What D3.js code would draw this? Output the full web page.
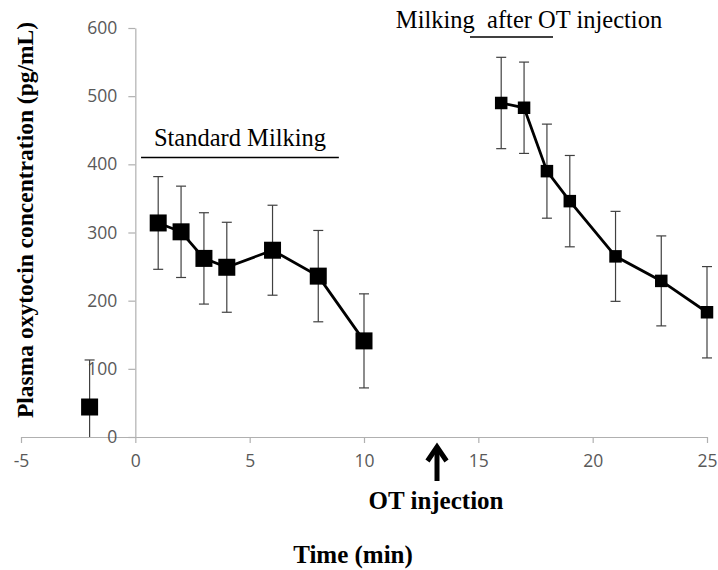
<!DOCTYPE html>
<html>
<head>
<meta charset="utf-8">
<script src="https://cdn.jsdelivr.net/npm/d3@7"></script>
<style>
	body { margin: 0; background: #fff; }
	svg { display: block; }
	.axis path, .axis line { stroke: #b0b0b0; stroke-width: 1.2; }
	.serif { font-family: "Liberation Serif", "Times New Roman", serif; fill: #000; }
</style>
</head>
<body>
<svg id="chart" width="718" height="570"></svg>
<script>
(function() {

	// DATA
	var baseTime = [-2]
	var baseValue = [44]
	var baseErr = [69]

	var standardTime = [1, 2, 3, 4, 6, 8, 10]
	var standardValue = [314, 301, 262, 249, 274, 236, 141]
	var standardErr = [68, 67, 67, 66, 66, 67, 69]

	var otTime = [16, 17, 18, 19, 21, 23, 25]
	var otValue = [490, 483, 390, 346, 265, 229, 183]
	var otErr = [67, 67, 69, 67, 66, 66, 67]

	var xTicks = [-5, 0, 5, 10, 15, 20, 25]
	var yTicks = [0, 100, 200, 300, 400, 500, 600]

	var svg = d3.select('#chart')

	var x = d3.scaleLinear().domain([-5, 25]).range([21, 707])
	var y = d3.scaleLinear().domain([0, 600]).range([437, 28]).clamp(true)

	function zip(t, v, e) {
		return t.map(function(d, i) { return { t: d, v: v[i], e: e[i] } })
	}

	var series = [
		{ pts: zip(baseTime, baseValue, baseErr), size: 17, line: false },
		{ pts: zip(standardTime, standardValue, standardErr), size: 17, line: true },
		{ pts: zip(otTime, otValue, otErr), size: 12.5, line: true }
	]

	// AXES
	svg.append('g')
		.attr('class', 'axis axis--x')
		.attr('transform', 'translate(0,' + y(0) + ')')
		.call(d3.axisBottom(x).tickValues(xTicks).tickFormat(String)
			.tickSize(6).tickSizeOuter(0).tickPadding(12))

	svg.append('g')
		.attr('class', 'axis axis--y')
		.attr('transform', 'translate(' + x(0) + ',0)')
		.call(d3.axisLeft(y).tickValues(yTicks).tickFormat(String)
			.tickSize(7).tickSizeOuter(0).tickPadding(11))

	svg.selectAll('.axis .domain').attr('stroke', '#b0b0b0')
	svg.selectAll('.axis')
		.attr('font-family', '"Open Sans", "Liberation Sans", Arial, sans-serif')
		.attr('font-size', 17.5)
	svg.selectAll('.axis .tick text').attr('fill', '#595959')

	// ERROR BARS + LINES + MARKERS
	var line = d3.line()
		.x(function(d) { return x(d.t) })
		.y(function(d) { return y(d.v) })

	series.forEach(function(s) {
		var g = svg.append('g')

		var eb = g.selectAll('.err').data(s.pts).enter().append('g')
			.attr('class', 'err')
			.attr('stroke', '#404040')
			.attr('stroke-width', 1.2)
		eb.append('line')
			.attr('x1', function(d) { return x(d.t) })
			.attr('x2', function(d) { return x(d.t) })
			.attr('y1', function(d) { return y(d.v - d.e) })
			.attr('y2', function(d) { return y(d.v + d.e) })
		eb.append('line')
			.attr('x1', function(d) { return x(d.t) - 5 })
			.attr('x2', function(d) { return x(d.t) + 5 })
			.attr('y1', function(d) { return y(d.v + d.e) })
			.attr('y2', function(d) { return y(d.v + d.e) })
		eb.filter(function(d) { return d.v - d.e > 0 }).append('line')
			.attr('x1', function(d) { return x(d.t) - 5 })
			.attr('x2', function(d) { return x(d.t) + 5 })
			.attr('y1', function(d) { return y(d.v - d.e) })
			.attr('y2', function(d) { return y(d.v - d.e) })

		if (s.line) {
			g.append('path')
				.datum(s.pts)
				.attr('d', line)
				.attr('fill', 'none')
				.attr('stroke', '#000')
				.attr('stroke-width', 2.8)
		}

		g.selectAll('.mark').data(s.pts).enter().append('rect')
			.attr('class', 'mark')
			.attr('x', function(d) { return x(d.t) - s.size / 2 })
			.attr('y', function(d) { return y(d.v) - s.size / 2 })
			.attr('width', s.size)
			.attr('height', s.size)
			.attr('fill', '#000')
	})

	// ANNOTATIONS
	svg.append('text')
		.attr('class', 'serif')
		.attr('x', 240).attr('y', 146)
		.attr('text-anchor', 'middle')
		.style('font-size', '24.5px')
		.text('Standard Milking')
	svg.append('line')
		.attr('x1', x(0.25)).attr('x2', x(8.9))
		.attr('y1', 157.5).attr('y2', 157.5)
		.attr('stroke', '#000').attr('stroke-width', 1.5)

	svg.append('text')
		.attr('class', 'serif')
		.attr('x', 529).attr('y', 28)
		.attr('text-anchor', 'middle')
		.style('font-size', '24.5px')
		.style('white-space', 'pre')
		.text('Milking  after OT injection')
	svg.append('line')
		.attr('x1', 470).attr('x2', 553)
		.attr('y1', 37).attr('y2', 37)
		.attr('stroke', '#000').attr('stroke-width', 1.5)

	// arrow for OT injection
	var ax = 437
	svg.append('line')
		.attr('x1', ax).attr('x2', ax)
		.attr('y1', 481).attr('y2', 447)
		.attr('stroke', '#000').attr('stroke-width', 5)
	svg.append('path')
		.attr('d', 'M' + (ax - 9.5) + ',' + 461 + ' L' + ax + ',' + 447 + ' L' + (ax + 9.5) + ',' + 461)
		.attr('fill', 'none')
		.attr('stroke-linejoin', 'miter')
		.attr('stroke', '#000').attr('stroke-width', 5)

	svg.append('text')
		.attr('class', 'serif')
		.attr('x', 436).attr('y', 509)
		.attr('text-anchor', 'middle')
		.style('font-size', '25px').style('font-weight', 'bold')
		.text('OT injection')

	svg.append('text')
		.attr('class', 'serif')
		.attr('x', 353).attr('y', 563)
		.attr('text-anchor', 'middle')
		.style('font-size', '25px').style('font-weight', 'bold')
		.text('Time (min)')

	svg.append('text')
		.attr('class', 'serif')
		.attr('transform', 'translate(33,220)rotate(-90)')
		.attr('text-anchor', 'middle')
		.style('font-size', '23.5px').style('font-weight', 'bold')
		.text('Plasma oxytocin concentration (pg/mL)')
})()
</script>
</body>
</html>
